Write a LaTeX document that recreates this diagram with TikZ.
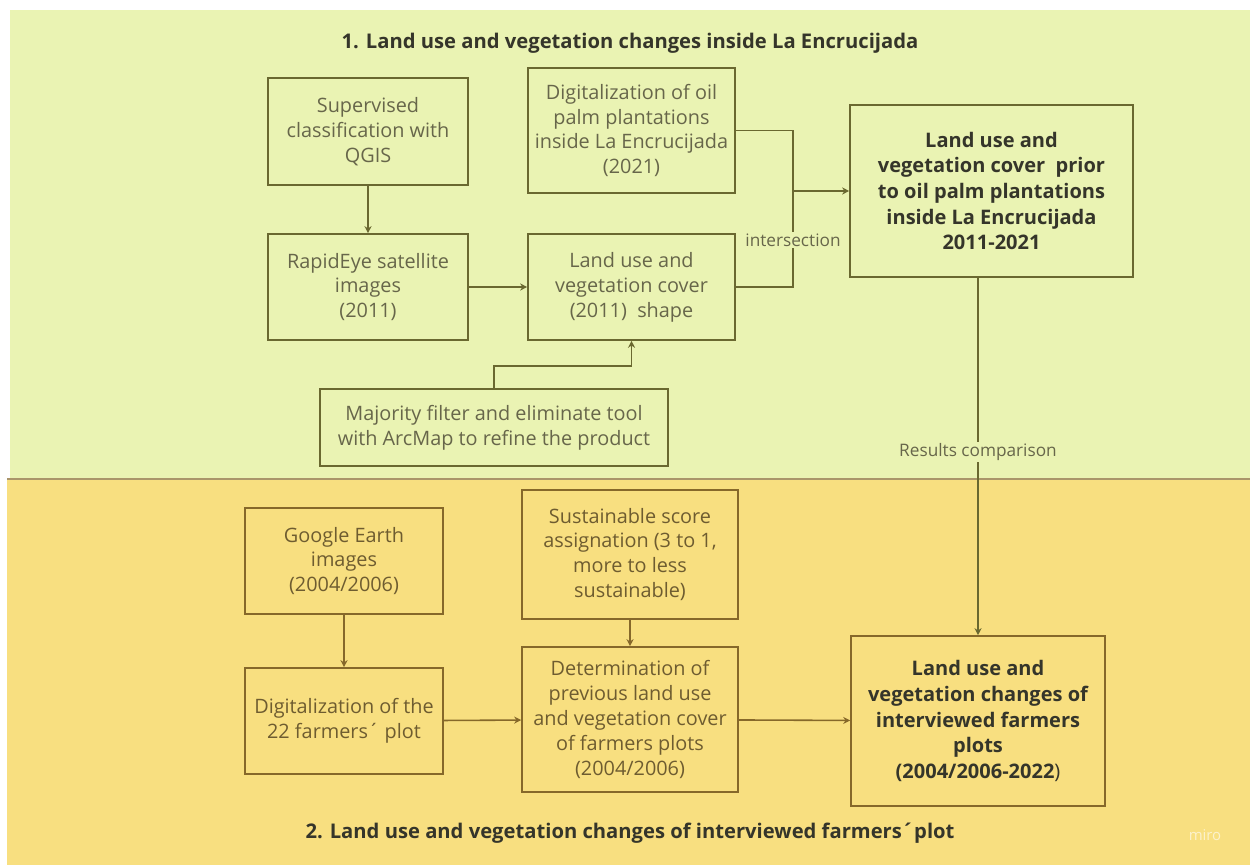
\documentclass[tikz,border=0pt]{standalone}
\usepackage{fontspec}
\setmainfont{Open Sans}
\usepackage{tikz}
\usetikzlibrary{arrows.meta,calc}

\definecolor{panelgreen}{HTML}{EAF3B3}
\definecolor{panelyellow}{HTML}{F8DF80}
\definecolor{linegreen}{HTML}{6A6830}
\definecolor{lineyellow}{HTML}{86682A}
\definecolor{txtgreen}{HTML}{67664A}
\definecolor{txtyellow}{HTML}{6E5C30}
\definecolor{txtbold}{HTML}{35352A}

\begin{document}
\begin{tikzpicture}[>={Stealth[length=4pt,width=4pt]},
  box/.style={draw=linegreen, line width=0.9pt, align=center, inner sep=2pt,
    text=txtgreen, font=\fontsize{11.3}{14.2}\selectfont},
  boxy/.style={box, draw=lineyellow, text=txtyellow},
  boldbox/.style={font=\fontsize{11.4}{14.6}\selectfont\bfseries, text=txtbold},
  conn/.style={line width=0.9pt, draw=linegreen},
  conny/.style={conn, draw=lineyellow},
  edgelabel/.style={font=\fontsize{9.8}{11}\selectfont, text=txtgreen, inner sep=1pt}]
  \useasboundingbox (0,0) rectangle (25,-17.3);
  % panels (1px = 0.02 cm)
  \fill[panelgreen] (0.2,-0.2) rectangle (25,-9.56);
  \fill[panelyellow] (0.14,-9.6) rectangle (25,-17.3);
  \draw[line width=0.6pt, color=lineyellow!70] (0.14,-9.58) -- (25,-9.58);
  \node[font=\fontsize{11.5}{13}\selectfont\bfseries, text=txtbold] (title1) at (12.6,-0.86)
    {1. Land use and vegetation changes inside La Encrucijada};
  \node[font=\fontsize{11.5}{13}\selectfont\bfseries, text=txtbold] (title2) at (12.6,-16.66)
    {2. Land use and vegetation changes of interviewed farmers´plot};
  \node[font=\fontsize{8.5}{10}\selectfont, text=white!60!panelyellow] (miro) at (24.1,-16.7) {miro};

  % Part 1
  \node[box, minimum width=4cm, minimum height=2.14cm] (sup) at (7.36,-2.63)
    {Supervised\\classification with\\QGIS};
  \node[box, minimum width=4.14cm, minimum height=2.5cm] (dig) at (12.63,-2.61)
    {Digitalization of oil\\palm plantations\\inside La Encrucijada\\(2021)};
  \node[box, boldbox, minimum width=5.66cm, minimum height=3.44cm] (prior) at (19.83,-3.82)
    {Land use and\\vegetation cover\ \ prior\\to oil palm plantations\\inside La Encrucijada\\2011-2021};
  \node[box, minimum width=4cm, minimum height=2.12cm] (rapid) at (7.36,-5.74)
    {RapidEye satellite\\images\\(2011)};
  \node[box, minimum width=4.14cm, minimum height=2.12cm] (shape) at (12.63,-5.74)
    {Land use and\\vegetation cover\\(2011)\ \ shape};
  \node[box, minimum width=6.96cm, minimum height=1.54cm] (maj) at (9.88,-8.55)
    {Majority filter and eliminate tool\\with ArcMap to refine the product};

  \draw[conn, ->] (sup) -- (rapid);
  \draw[conn, ->] (rapid) -- (shape);
  \coordinate (jn) at (15.86,-3.82);
  \draw[conn] (dig.east) -| (jn);
  \draw[conn] (shape.east) -| (jn);
  \draw[conn, line width=1.3pt, ->] (jn) -- (prior.west |- jn);
  \node[edgelabel, fill=panelgreen] (isect) at (15.86,-4.8) {intersection};
  \draw[conn, ->] (maj.north) -- ++(0,0.44) -| (shape.south);

  % Part 2
  \node[boxy, minimum width=3.96cm, minimum height=2.12cm] (goo) at (6.88,-11.22)
    {Google Earth\\images\\(2004/2006)};
  \node[boxy, minimum width=4.32cm, minimum height=2.58cm] (sus) at (12.6,-11.09)
    {Sustainable score\\assignation (3 to 1,\\more to less\\sustainable)};
  \node[boxy, minimum width=3.96cm, minimum height=2.12cm] (dig22) at (6.88,-14.42)
    {Digitalization of the\\22 farmers´ plot};
  \node[boxy, minimum width=4.32cm, minimum height=2.9cm] (det) at (12.6,-14.39)
    {Determination of\\previous land use\\and vegetation cover\\of farmers plots\\(2004/2006)};
  \node[boxy, boldbox, minimum width=5.08cm, minimum height=3.4cm] (chg) at (19.56,-14.42)
    {Land use and\\vegetation changes of\\interviewed farmers\\plots\\(2004/2006-2022\textmd{)}};

  \draw[conny, ->] (goo) -- (dig22);
  \draw[conny, ->] (sus) -- (det);
  \draw[conny, ->] (dig22) -- (det);
  \draw[conny, ->] (det) -- (chg);

  % comparison between both parts
  \draw[conn, ->] (chg.north |- prior.south) -- (chg.north);
  \node[edgelabel, fill=panelgreen] (cmp) at (19.56,-9.04) {Results comparison};
\end{tikzpicture}
\end{document}
